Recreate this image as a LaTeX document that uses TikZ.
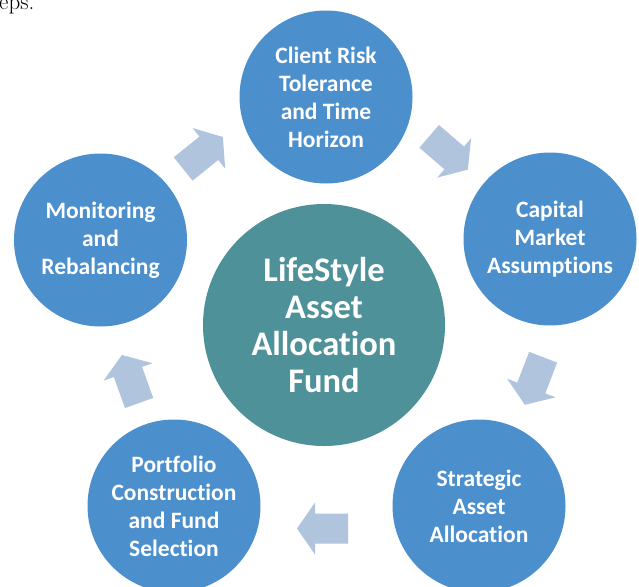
\documentclass[tikz,border=0pt]{standalone}
\usepackage{fontspec}
\newfontfamily\calib[Ligatures=NoCommon]{Carlito}
\definecolor{cblue}{RGB}{76,143,205}
\definecolor{cteal}{RGB}{79,145,153}
\definecolor{carrow}{RGB}{176,196,222}
\tikzset{
  outer/.style={circle, fill=cblue, minimum size=173pt, inner sep=0pt, text=white,
    font=\calib\bfseries\fontsize{23.5}{28}\selectfont, align=center},
  hub/.style={circle, fill=cteal, minimum size=242pt, inner sep=0pt, text=white,
    font=\calib\bfseries\fontsize{34.5}{37.3}\selectfont, align=center},
  cyc arrow/.pic={\fill[carrow] (-25.5,-15) -- (7.5,-15) -- (7.5,-26) -- (25.5,0)
      -- (7.5,26) -- (7.5,15) -- (-25.5,15) -- cycle;}
}
\begin{document}
\begin{tikzpicture}[x=1pt,y=-1pt]
\useasboundingbox (0,0) rectangle (639,586);
\clip (0,0) rectangle (639,586);
\node[anchor=base west, inner sep=0pt, font=\fontsize{23}{27}\selectfont] (frag) at (-1,9.5) {eps.};
\node[outer] (risk) at (326,97) {Client Risk\\Tolerance\\and Time\\Horizon};
\node[outer] (cma) at (550,239) {Capital\\Market\\Assumptions};
\node[outer] (saa) at (479,506) {Strategic\\Asset\\Allocation};
\node[outer] (pcfs) at (174,506) {Portfolio\\Construction\\and Fund\\Selection};
\node[outer] (mon) at (100.5,240) {Monitoring\\and\\Rebalancing};
\node[hub] (hub) at (324,325) {LifeStyle\\Asset\\Allocation\\Fund};
\pic[rotate=38.8] (a1) at (203,153) {cyc arrow};
\pic[rotate=-40.7] (a2) at (448.5,153) {cyc arrow};
\pic[rotate=-111] (a3) at (534,381) {cyc arrow};
\pic[rotate=180] (a4) at (322.5,528.5) {cyc arrow};
\pic[rotate=109.7] (a5) at (130.5,379) {cyc arrow};
\end{tikzpicture}
\end{document}
